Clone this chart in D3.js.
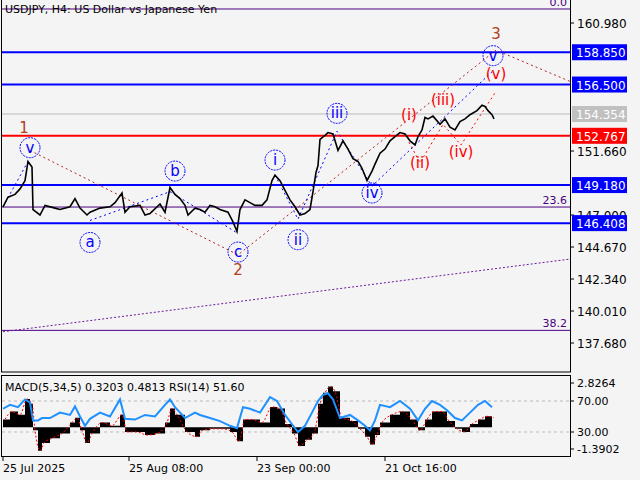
<!DOCTYPE html><html><head><meta charset="utf-8"><script src="https://cdn.jsdelivr.net/npm/d3@7"></script>
<style>body{margin:0;background:#f4f4f4}text{font-family:"DejaVu Sans",sans-serif}</style></head><body><svg id="c" width="640" height="480"></svg><script>
const title="USDJPY, H4:  US Dollar vs Japanese Yen";
const priceBars=[0,5,12,17,22,25,29,30,37,42,52,57,67,72,77,84,87,97,107,112,119,122,127,137,142,147,157,162,167,172,177,182,185,192,197,202,207,212,217,225,230,234,237,242,247,252,259,264,269,272,277,282,287,292,297,302,307,310,313,315,317,322,325,330,335,340,345,350,355,359,364,369,372,377,382,387,392,397,402,407,412,415,419,422,425,430,437,442,447,452,457,462,467,474,479,482,485,489,491];
const priceVals=[147.6,148.3,148.5,148.9,149.5,150.9,150.5,147.4,147.0,147.7,147.5,147.4,147.6,148.2,147.5,147.0,147.2,147.5,147.6,147.9,148.6,147.2,147.6,147.7,147.0,147.1,147.8,147.2,149.0,148.5,148.2,147.7,147.0,147.5,147.4,147.2,147.7,147.6,147.4,147.2,146.5,145.8,147.4,148.1,147.9,147.7,147.7,148.1,149.5,149.9,149.5,148.8,148.1,147.6,147.0,147.1,147.4,148.7,150.1,150.6,152.5,152.8,153.0,152.9,151.7,152.4,151.8,151.1,150.9,150.4,149.5,150.2,150.7,151.5,151.8,152.4,152.7,153.0,152.9,152.4,152.1,152.7,153.2,154.1,154.0,154.2,153.6,154.0,153.4,153.2,153.8,154.0,154.3,154.6,155.0,154.9,154.6,154.3,154.0];
const rightTicks=[160.980,151.660,147.000,144.670,142.340,140.010,137.680];
const levelsBlue=[158.850,156.500,149.180,146.408];
const levelRed=152.767, levelGray=154.354;
const fibLevels=[[162.0,"0.0"],[147.58,"23.6"],[138.6,"38.2"]];
const timeTicks=[[0,"25 Jul 2025"],[126,"25 Aug 08:00"],[254,"23 Sep 00:00"],[382,"21 Oct 16:00"]];
const waveLabels=[[21,"1",153.3,"brown","plain"],[27,"v",151.9,"blue","circle"],[87,"a",145.0,"blue","circle"],[172,"b",150.2,"blue","circle"],[235,"c",144.3,"blue","circle"],[235,"2",143.0,"brown","plain"],[272,"i",151.0,"blue","circle"],[295,"ii",145.2,"blue","circle"],[334,"iii",154.4,"blue","circle"],[369,"iv",148.6,"blue","circle"],[406,"(i)",154.3,"red","plain"],[417,"(ii)",150.8,"red","plain"],[440,"(iii)",155.4,"red","plain"],[458,"(iv)",151.6,"red","plain"],[493,"(v)",157.3,"red","plain"],[490,"v",158.6,"blue","circle"],[493,"3",160.2,"brown","plain"]];
const brownPathBars=[27,235,493,568], brownPathVals=[151.7,144.1,159.0,156.7];
const bluePathBars=[[0,25],[87,167,234],[272,295,334,369,490]], bluePathVals=[[147.6,150.9],[146.6,148.7,145.7],[149.9,146.7,153.1,149.1,157.5]];
const redPathBars=[406,417,440,458,493], redPathVals=[152.3,150.8,153.6,152.1,156.0];
const trendBars=[0,568], trendVals=[138.5,143.8];
const macdBars=[0,7,15,22,27,30,35,39,47,57,67,72,77,82,87,97,107,117,122,132,142,152,162,167,172,182,192,197,207,217,227,234,240,247,257,267,274,282,289,295,302,309,315,320,325,330,337,347,355,362,367,372,377,387,397,407,415,422,429,437,444,452,459,467,475,482,489];
const macdVals=[0.5,1.0,0.8,1.8,1.5,-0.2,-1.5,-1.0,-0.7,-0.4,0.3,0.6,-0.2,-1.0,-0.4,0.3,0.1,0.8,-0.3,-0.3,-0.5,-0.4,0.3,1.2,0.8,-0.3,-0.6,-0.2,-0.1,-0.1,-0.3,-0.9,0.5,0.5,0.3,1.3,1.2,0.2,-0.4,-1.2,-0.8,-0.4,1.5,2.2,2.6,2.3,0.6,0.4,-0.1,-0.6,-1.1,-0.5,0.3,0.8,1.0,0.5,-0.2,0.5,1.0,1.0,0.4,-0.1,-0.3,0.2,0.5,0.7,0.6];
const rsiVals=[60,65,62,72,68,45,45,48,48,55,52,63,50,38,47,55,50,72,47,46,52,50,65,72,62,48,55,52,48,44,38,35,62,60,55,75,70,52,40,30,38,55,70,78,80,72,48,52,45,38,32,45,65,62,70,60,45,60,70,65,58,48,45,55,65,70,62];
const macdRange=[-1.3902,2.8264];

const svg=d3.select("#c");
const X0=3,XR=570;
const x=d3.scaleLinear().domain([0,567]).range([X0,XR]);
const y=d3.scaleLinear().domain([137.68,160.98]).range([343,23]);
const ym=d3.scaleLinear().domain(macdRange).range([449,383]);
const yr=d3.scaleLinear().domain([30,70]).range([432,401]);
svg.append("clipPath").attr("id","mc").append("rect").attr("x",2).attr("y",0).attr("width",568).attr("height",372);
svg.append("rect").attr("x",1.5).attr("y",-1).attr("width",569).attr("height",373).attr("fill","#f4f4f4").attr("stroke","#000");
svg.append("rect").attr("x",1.5).attr("y",375.5).attr("width",569).attr("height",81).attr("fill","#f4f4f4").attr("stroke","#000");
const g=svg.append("g").attr("clip-path","url(#mc)");
fibLevels.forEach(f=>{g.append("line").attr("x1",2).attr("x2",570).attr("y1",y(f[0])).attr("y2",y(f[0])).attr("stroke","#4b0082").attr("stroke-width",1);
 g.append("text").attr("x",567).attr("y",y(f[0])-3).attr("text-anchor","end").attr("font-size",11).attr("fill","#4b0082").text(f[1]);});
g.append("line").attr("x1",x(trendBars[0])).attr("x2",x(trendBars[1])).attr("y1",y(trendVals[0])).attr("y2",y(trendVals[1])).attr("stroke","#6a1b9a").attr("stroke-dasharray","2,2");
g.append("line").attr("x1",2).attr("x2",570).attr("y1",y(levelGray)).attr("y2",y(levelGray)).attr("stroke","#bbb");
levelsBlue.forEach(v=>g.append("line").attr("x1",2).attr("x2",570).attr("y1",y(v)).attr("y2",y(v)).attr("stroke","#0000ff").attr("stroke-width",2));
g.append("line").attr("x1",2).attr("x2",570).attr("y1",y(levelRed)).attr("y2",y(levelRed)).attr("stroke","#ff0000").attr("stroke-width",2);
const ln=(bs,vs)=>d3.line()(bs.map((b,i)=>[x(b),y(vs[i])]));
g.append("path").attr("d",ln(brownPathBars,brownPathVals)).attr("fill","none").attr("stroke","#b22222").attr("stroke-dasharray","2,3");
bluePathBars.forEach((b,i)=>g.append("path").attr("d",ln(b,bluePathVals[i])).attr("fill","none").attr("stroke","#0000ff").attr("stroke-dasharray","2,3"));
g.append("path").attr("d",ln(redPathBars,redPathVals)).attr("fill","none").attr("stroke","#ff0000").attr("stroke-dasharray","2,3");
g.append("path").attr("d",ln(priceBars,priceVals)).attr("fill","none").attr("stroke","#000").attr("stroke-width",1.6);
waveLabels.forEach(w=>{const cx=x(w[0]),cy=y(w[2]);const col=w[3]=="blue"?"#0000ff":w[3]=="red"?"#ff0000":"#b04020";
 if(w[4]=="circle")g.append("circle").attr("cx",cx).attr("cy",cy).attr("r",10).attr("fill","none").attr("stroke","#0000ff").attr("stroke-dasharray","2,1");
 g.append("text").attr("x",cx).attr("y",cy+5).attr("text-anchor","middle").attr("font-size",15).attr("fill",col).text(w[1]);});
g.append("text").attr("x",5).attr("y",13).attr("font-size",11).text(title);
const ax=svg.append("g").attr("font-size",12);
rightTicks.forEach(v=>{ax.append("line").attr("x1",570).attr("x2",574).attr("y1",y(v)).attr("y2",y(v)).attr("stroke","#000");ax.append("text").attr("x",577).attr("y",y(v)+5).text(v.toFixed(3));});
const tag=(v,bg,fg)=>{ax.append("rect").attr("x",572).attr("y",y(v)-8).attr("width",55).attr("height",16).attr("fill",bg);ax.append("text").attr("x",576).attr("y",y(v)+5).attr("fill",fg).text(v.toFixed(3));};
levelsBlue.forEach(v=>tag(v,"#0000ff","#fff"));tag(levelGray,"#c0c0c0","#fff");tag(levelRed,"#ff0000","#fff");
const ind=svg.append("g");
[70,30].forEach(v=>ind.append("line").attr("x1",2).attr("x2",570).attr("y1",yr(v)).attr("y2",yr(v)).attr("stroke","#bbb").attr("stroke-dasharray","3,3"));
const pts=macdBars.map((b,i)=>[x(b),macdVals[i]]);
ind.append("path").attr("d",d3.area().x(d=>d[0]).y0(ym(0)).y1(d=>ym(d[1])).curve(d3.curveStepAfter)(pts)).attr("fill","#000");
ind.append("path").attr("d",d3.line().x(d=>d[0]+2).y(d=>ym(d[1])).curve(d3.curveMonotoneX)(pts)).attr("fill","none").attr("stroke","#ff0000").attr("stroke-dasharray","2,2");
ind.append("path").attr("d",d3.line().x((d,i)=>x(macdBars[i])).y(d=>yr(d))(rsiVals)).attr("fill","none").attr("stroke","#1e90ff").attr("stroke-width",2);
ind.append("text").attr("x",5).attr("y",391).attr("font-size",11).text("MACD(5,34,5) 0.3203 0.4813 RSI(14) 51.60");
[[383,"2.8264"],[401,"70.00"],[432,"30.00"],[449,"-1.3902"]].forEach(t=>{ind.append("line").attr("x1",570).attr("x2",574).attr("y1",t[0]).attr("y2",t[0]).attr("stroke","#000");ind.append("text").attr("x",577).attr("y",t[0]+4).attr("font-size",11).text(t[1]);});
timeTicks.forEach(t=>{svg.append("line").attr("x1",x(t[0])).attr("x2",x(t[0])).attr("y1",457).attr("y2",461).attr("stroke","#000");svg.append("text").attr("x",x(t[0])).attr("y",472).attr("font-size",11).text(t[1]);});
</script></body></html>
